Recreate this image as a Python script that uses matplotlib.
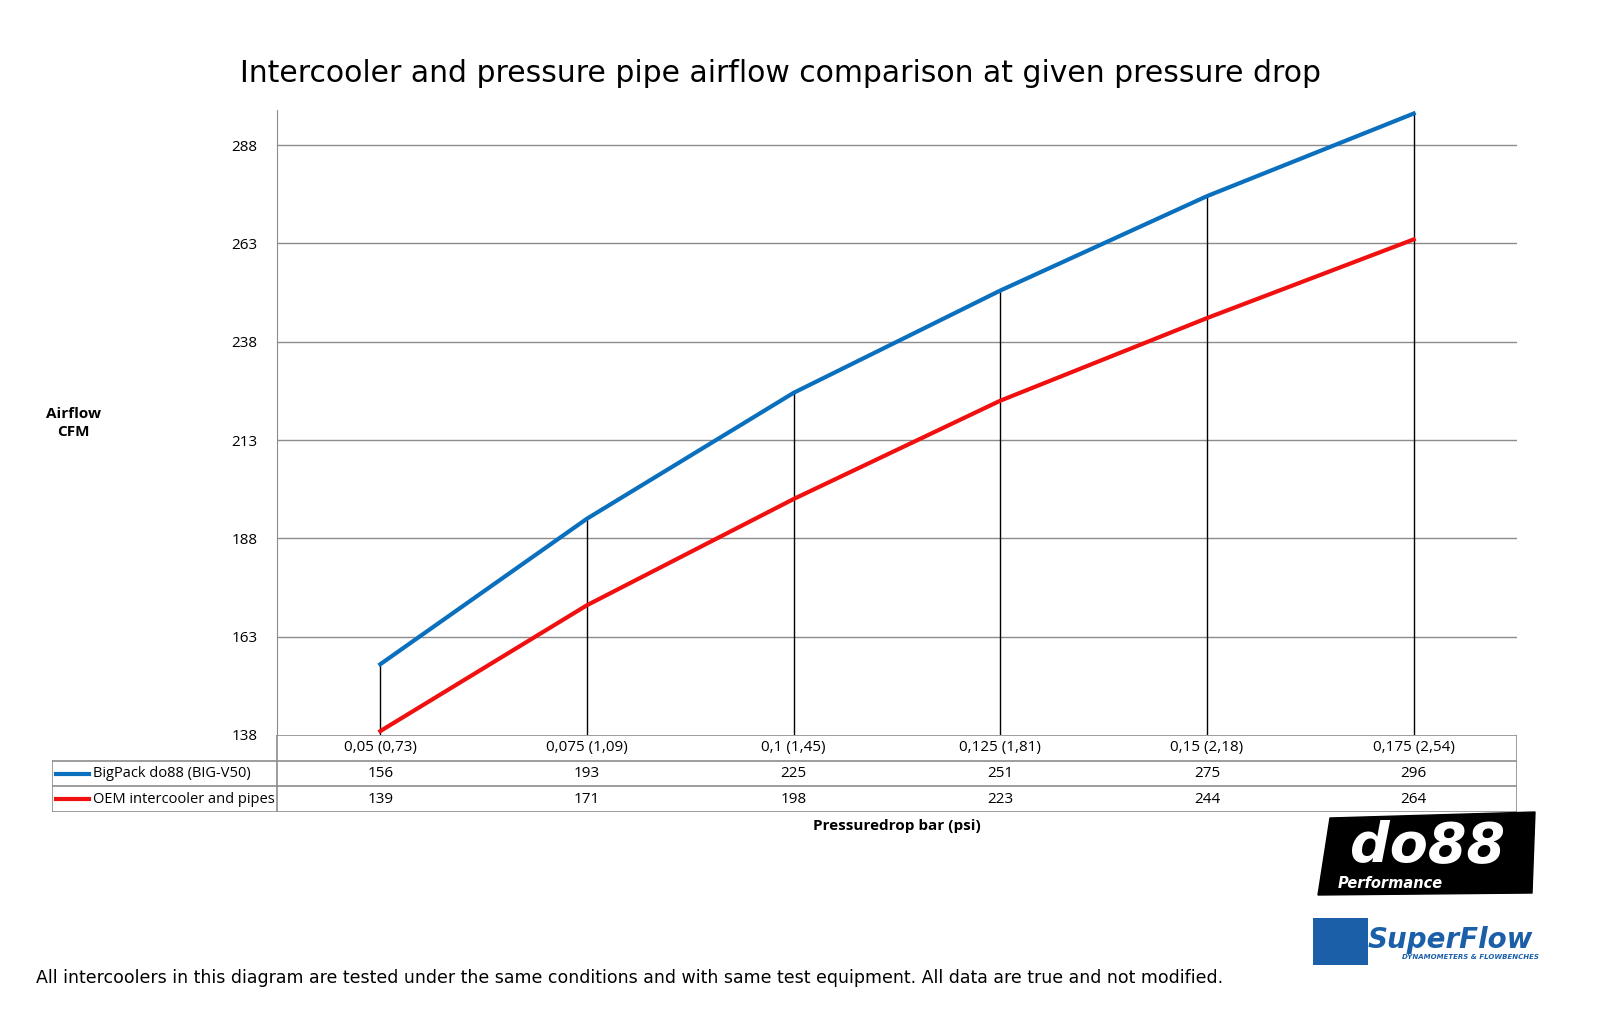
import numpy as np
import matplotlib.pyplot as plt
from matplotlib.patches import Rectangle, Polygon

# data
categories = ["0,05 (0,73)", "0,075 (1,09)", "0,1 (1,45)", "0,125 (1,81)", "0,15 (2,18)", "0,175 (2,54)"]
bigpack = [156, 193, 225, 251, 275, 296]
oem = [139, 171, 198, 223, 244, 264]
series_names = ["BigPack do88 (BIG-V50)", "OEM intercooler and pipes"]
yticks = [138, 163, 188, 213, 238, 263, 288]

BLUE = "#0A70BE"
RED = "#F01010"
GRID = "#8C8C8C"
FONT = "Open Sans"

W, H = 1600, 1028
fig = plt.figure(figsize=(16, 10.28), dpi=100)

def fx(px):
    return px / W

def fy(py):
    return 1 - py / H

ax_l, ax_r, ax_t, ax_b = 277, 1517, 110, 735
ax = fig.add_axes([fx(ax_l), fy(ax_b), fx(ax_r - ax_l), fy(ax_t) - fy(ax_b)])
x = np.arange(len(categories))
ax.set_xlim(-0.5, len(categories) - 0.5)
ax.set_ylim(138, 296.9)

for yv in yticks[1:]:
    ax.axhline(yv, color=GRID, lw=1, zorder=1)
ax.vlines(x, 138, bigpack, color="black", lw=1, zorder=2)
ax.plot(x, bigpack, color=BLUE, lw=3, zorder=3)
ax.plot(x, oem, color=RED, lw=3, zorder=3)

ax.set_yticks(yticks)
ax.set_yticklabels([str(v) for v in yticks], fontsize=11, family=FONT)
ax.tick_params(axis="y", length=0, pad=14)
ax.set_xticks([])
for s in ["top", "right", "bottom"]:
    ax.spines[s].set_visible(False)
ax.spines["left"].set_color(GRID)

# data table
step = (ax_r - ax_l) / len(categories)
tab_l = 52
tab = fig.add_axes([fx(tab_l), fy(812), fx(ax_r - tab_l), fy(735) - fy(812)])
tab.set_xlim(-0.5 - (ax_l - tab_l) / step, len(categories) - 0.5)
tab.set_ylim(3, 0)
tab.axis("off")
x0 = tab.get_xlim()[0]
x1 = len(categories) - 0.5
tab.plot([-0.5, x1], [0, 0], color=GRID, lw=1.2)
for r in [1, 2, 3]:
    tab.plot([x0, x1], [r, r], color=GRID, lw=1.2)
tab.plot([x0, x0], [1, 3], color=GRID, lw=1.2)
tab.plot([-0.5, -0.5], [0, 3], color=GRID, lw=1.2)
tab.plot([x1, x1], [0, 3], color=GRID, lw=1.2)
for i, c in enumerate(categories):
    tab.text(i, 0.5, c, ha="center", va="center", fontsize=11, family=FONT)
for r, (vals, name, col) in enumerate([(bigpack, series_names[0], BLUE), (oem, series_names[1], RED)]):
    yy = r + 1.5
    for i, v in enumerate(vals):
        tab.text(i, yy, str(v), ha="center", va="center", fontsize=11, family=FONT)
    tab.plot([x0 + 0.02, x0 + 0.18], [yy, yy], color=col, lw=3)
    tab.text(x0 + 0.2, yy, name, ha="left", va="center", fontsize=10.5, family=FONT)

# texts
fig.text(fx(780), fy(73), "Intercooler and pressure pipe airflow comparison at given pressure drop",
         ha="center", va="center", fontsize=21.5, family="DejaVu Sans")
fig.text(fx(73), fy(423), "Airflow\nCFM", ha="center", va="center", fontsize=11,
         family=FONT, fontweight="bold", linespacing=1.4)
fig.text(fx(897), fy(826), "Pressuredrop bar (psi)", ha="center", va="center", fontsize=11,
         family=FONT, fontweight="bold")
fig.text(fx(36), fy(978), "All intercoolers in this diagram are tested under the same conditions and with same test equipment. All data are true and not modified.",
         ha="left", va="center", fontsize=12.5, family="DejaVu Sans")

# logos (approximate)
fig.patches.append(Polygon([[fx(1330), fy(818)], [fx(1535), fy(812)], [fx(1532), fy(893)],
                            [fx(1318), fy(895)]], closed=True, transform=fig.transFigure,
                           facecolor="black", edgecolor="black"))
fig.text(fx(1428), fy(846), "do88", ha="center", va="center", fontsize=40, color="white",
         fontweight="bold", style="italic", family="DejaVu Sans")
fig.text(fx(1390), fy(883), "Performance", ha="center", va="center", fontsize=10.5, color="white",
         fontweight="bold", style="italic", family="DejaVu Sans")
fig.patches.append(Rectangle((fx(1313), fy(965)), fx(55), fy(918) - fy(965), transform=fig.transFigure,
                             facecolor="#1A5FA8", edgecolor="none"))
fig.text(fx(1450), fy(940), "SuperFlow", ha="center", va="center", fontsize=20, color="#1A5FA8",
         fontweight="bold", style="italic", family="DejaVu Sans")
fig.text(fx(1470), fy(957), "DYNAMOMETERS & FLOWBENCHES", ha="center", va="center", fontsize=5,
         color="#1A5FA8", fontweight="bold", style="italic", family="DejaVu Sans")

fig.savefig("out.png", dpi=100, facecolor="white")
